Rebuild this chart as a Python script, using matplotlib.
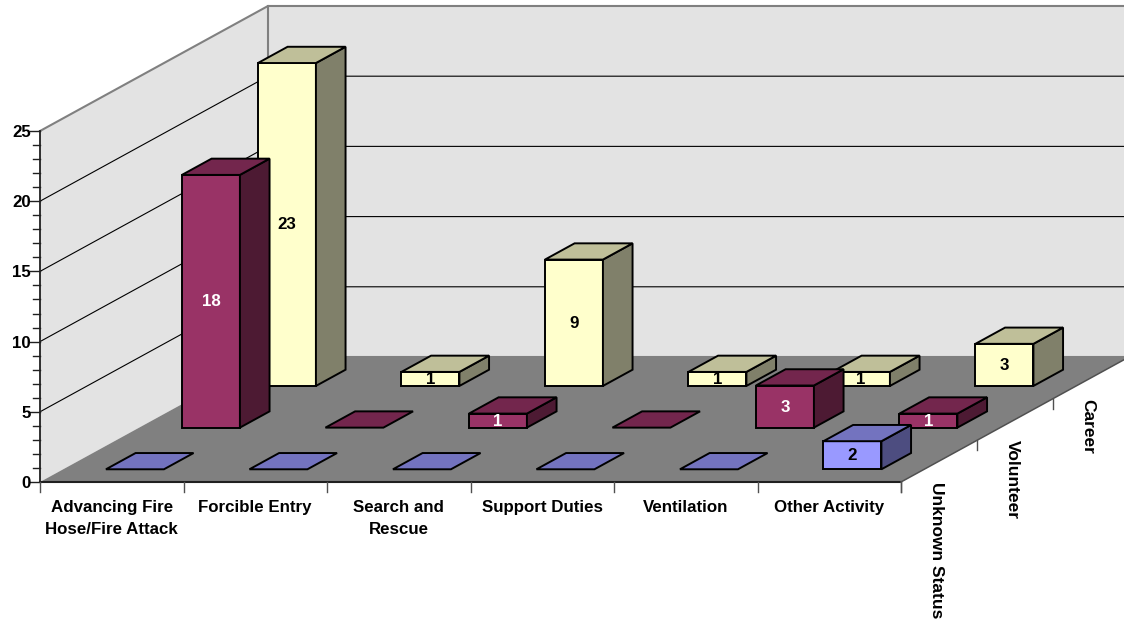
import matplotlib
matplotlib.use("Agg")
import matplotlib.pyplot as plt
from matplotlib.patches import Polygon

plt.rcParams['font.family'] = ['Liberation Sans', 'DejaVu Sans']

categories = ["Advancing Fire\nHose/Fire Attack", "Forcible Entry", "Search and\nRescue",
              "Support Duties", "Ventilation", "Other Activity"]
series_names = ["Unknown Status", "Volunteer", "Career"]
unknown_status = [0, 0, 0, 0, 0, 2]
volunteer = [18, 0, 1, 0, 3, 1]
career = [23, 1, 9, 1, 1, 3]
series_values = [unknown_status, volunteer, career]
z_major = [0, 5, 10, 15, 20, 25]
z_minor = list(range(0, 26))

front_colors = ["#9999FF", "#993366", "#FFFFCC"]
top_colors = ["#7373BF", "#73264D", "#BFBF99"]
side_colors = ["#4D4D80", "#4D1A33", "#80806A"]
label_colors = ["black", "white", "black"]

X0, Y0 = 40.0, 482.0
CAT_W = 143.5
ROW_DX, ROW_DY = 76.0, -41.67
UNIT = 14.04
BAR_W, BAR_D = 0.404, 0.39
NC, NR = len(categories), len(series_names)
FS = 12.2


def P(c, r, z=0.0):
    """Oblique projection of (category, row, value) onto figure pixels."""
    return (X0 + c * CAT_W + r * ROW_DX, Y0 + r * ROW_DY - z * UNIT)


fig = plt.figure(figsize=(11.24, 6.2), dpi=100, facecolor="white")
ax = fig.add_axes([0, 0, 1, 1])
ax.set_xlim(0, 1124)
ax.set_ylim(620, 0)
ax.axis("off")

WALL, GRID, EDGE = "#E3E3E3", "#000000", "#808080"
ztop = 25

# walls and floor
ax.add_patch(Polygon([P(0, 0), P(0, 0, ztop), P(0, NR, ztop), P(0, NR)], fc=WALL, ec="none", zorder=1))
ax.add_patch(Polygon([P(0, NR), P(0, NR, ztop), P(NC, NR, ztop), P(NC, NR)], fc=WALL, ec="none", zorder=1))
ax.add_patch(Polygon([P(0, 0), P(NC, 0), P(NC, NR), P(0, NR)], fc="#808080", ec="none", zorder=2))
# gridlines
for z in z_major[1:-1]:
    ax.plot(*zip(P(0, 0, z), P(0, NR, z), P(NC, NR, z)), color=GRID, lw=0.8, zorder=1.5)
# wall borders
ax.plot(*zip(P(0, 0, ztop), P(0, NR, ztop), P(NC, NR, ztop)), color=EDGE, lw=1.5, zorder=1.6)
ax.plot(*zip(P(0, NR, ztop), P(0, NR)), color=EDGE, lw=1.5, zorder=1.6)
ax.plot(*zip(P(0, NR), P(NC, NR)), color=EDGE, lw=1.5, zorder=2.1)

# bars, back row first
zo = 3.0
for r in range(NR - 1, -1, -1):
    for c in range(NC):
        v = series_values[r][c]
        c0 = c + 0.5 - BAR_W / 2
        c1 = c + 0.5 + BAR_W / 2
        r0 = r + 0.5 - BAR_D / 2
        r1 = r + 0.5 + BAR_D / 2
        kw = dict(ec="black", lw=1.4, joinstyle="miter", zorder=zo)
        if v > 0:
            ax.add_patch(Polygon([P(c0, r0), P(c1, r0), P(c1, r0, v), P(c0, r0, v)], fc=front_colors[r], **kw))
            ax.add_patch(Polygon([P(c1, r0), P(c1, r1), P(c1, r1, v), P(c1, r0, v)], fc=side_colors[r], **kw))
        ax.add_patch(Polygon([P(c0, r0, v), P(c1, r0, v), P(c1, r1, v), P(c0, r1, v)], fc=top_colors[r], **kw))
        zo += 0.01
        if v > 0:
            x, y = P(c + 0.5, r0, v / 2)
            ax.text(x, y + 0.5, str(v), color=label_colors[r], fontsize=FS, fontweight="bold",
                    ha="center", va="center", zorder=10)

# value axis
AX = "#202020"
ax.plot(*zip(P(0, 0), P(0, 0, ztop)), color=AX, lw=1.3, zorder=5)
for z in z_minor:
    x, y = P(0, 0, z)
    ln = 10 if z in z_major else 7
    ax.plot([x - ln, x], [y, y], color=AX, lw=1.0, zorder=5)
for z in z_major:
    x, y = P(0, 0, z)
    ax.text(x - 9, y + 1.5, str(z), fontsize=FS, fontweight="bold", ha="right", va="center", zorder=10)

# category axis
ax.plot(*zip(P(0, 0), P(NC, 0)), color=AX, lw=1.5, zorder=5)
for c in range(NC + 1):
    x, y = P(c, 0)
    ax.plot([x, x], [y, y + 10], color="#505050", lw=1.0, zorder=5)
for c, name in enumerate(categories):
    x, y = P(c + 0.5, 0)
    ax.text(x, 500, name, fontsize=FS, fontweight="bold", ha="center", va="top",
            linespacing=1.55, zorder=10)

# depth axis
ax.plot(*zip(P(NC, 0), P(NC, NR)), color="#505050", lw=1.1, zorder=5)
for r in range(NR):
    x, y = P(NC, r)
    ax.plot([x, x], [y, y + 10], color="#505050", lw=1.0, zorder=5)
    ax.text(x + 35, y, series_names[r], fontsize=12.5, fontweight="bold", rotation=-90,
            rotation_mode="default", ha="center", va="top", zorder=10)

fig.savefig("out.png", dpi=100)
